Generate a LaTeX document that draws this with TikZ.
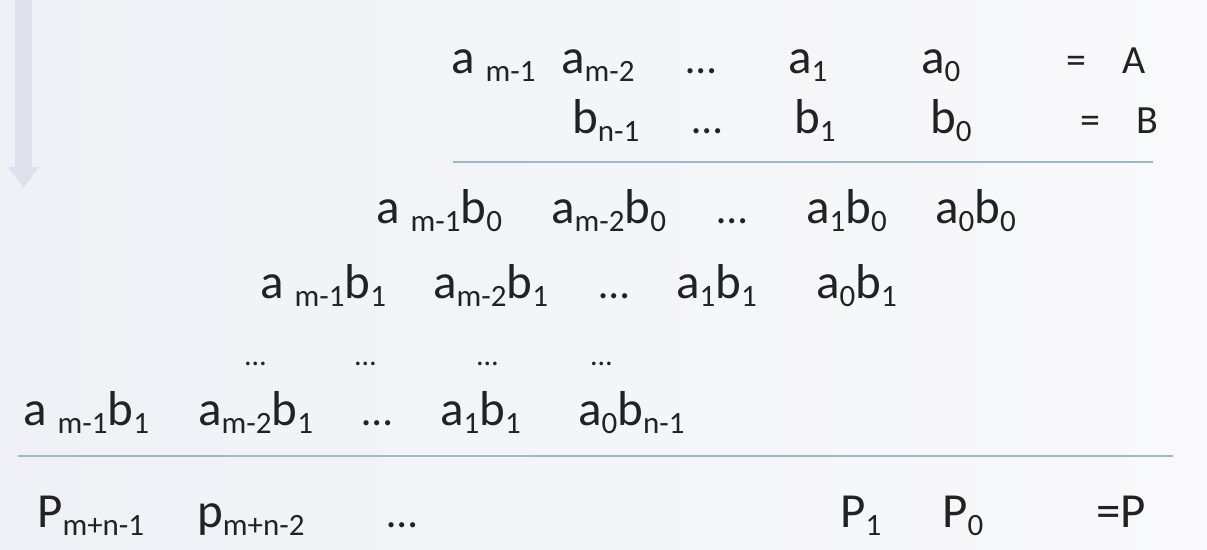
\documentclass[tikz,border=0pt]{standalone}
\usepackage{fontspec}
\setmainfont{Carlito}
\definecolor{bgleft}{HTML}{EFF1F6}
\definecolor{bgright}{HTML}{F9F9FB}
\definecolor{rulecol}{HTML}{98BCC6}
\definecolor{txtcol}{HTML}{222222}
\definecolor{arrowcol}{HTML}{DDE1EC}
\newcommand{\lsub}[1]{\raisebox{-8pt}{\fontsize{31}{34}\selectfont #1}}
\tikzset{
  term/.style={anchor=base west,inner sep=0pt,text=txtcol,font=\fontsize{49}{54}\selectfont},
  smallterm/.style={term,font=\fontsize{40}{44}\selectfont},
  ellterm/.style={term,font=\fontsize{43}{48}\selectfont},
  dotterm/.style={term,font=\fontsize{30}{34}\selectfont},
  sumrule/.style={draw=rulecol,line width=2pt}
}
\begin{document}
\begin{tikzpicture}[x=1pt,y=-1pt]
\useasboundingbox (0,0) rectangle (1207,549);
\shade[left color=bgleft,right color=bgright] (0,0) rectangle (1207,549);
% arrow at the top left
\fill[arrowcol] (15,0) rectangle (32,167);
\fill[arrowcol] (8,167) -- (39,167) -- (23.5,188) -- cycle;
% A
\node[term] (am1) at (451,73) {a\hspace{11pt}\lsub{m-1}};
\node[term] (am2) at (561,73) {a\lsub{m-2}};
\node[ellterm] (adots) at (686,73) {…};
\node[term] (a1) at (788,73) {a\lsub{1}};
\node[term] (a0) at (921,73) {a\lsub{0}};
\node[smallterm] (aeq) at (1066,73) {=};
\node[smallterm] (A) at (1122,73) {A};
% B
\node[term] (bn1) at (572,133) {b\lsub{n-1}};
\node[ellterm] (bdots) at (692,133) {…};
\node[term] (b1) at (794,133) {b\lsub{1}};
\node[term] (b0) at (930,133) {b\lsub{0}};
\node[smallterm] (beq) at (1080,133) {=};
\node[smallterm] (B) at (1136,133) {B};
\coordinate (r1w) at (453,162);
\coordinate (r1e) at (1153,162);
\draw[sumrule] (r1w) -- (r1e);
% partial product with b0
\node[term] (p0a) at (376,223) {a\hspace{11pt}\lsub{m-1}b\lsub{0}};
\node[term] (p0b) at (551,223) {a\lsub{m-2}b\lsub{0}};
\node[ellterm] (p0c) at (717,223) {…};
\node[term] (p0d) at (806,223) {a\lsub{1}b\lsub{0}};
\node[term] (p0e) at (935,223) {a\lsub{0}b\lsub{0}};
% partial product with b1
\node[term] (p1a) at (260,298) {a\hspace{11pt}\lsub{m-1}b\lsub{1}};
\node[term] (p1b) at (433,298) {a\lsub{m-2}b\lsub{1}};
\node[ellterm] (p1c) at (599,298) {…};
\node[term] (p1d) at (676,298) {a\lsub{1}b\lsub{1}};
\node[term] (p1e) at (816,298) {a\lsub{0}b\lsub{1}};
% dots
\node[dotterm] (d1) at (245,365) {…};
\node[dotterm] (d2) at (355,365) {…};
\node[dotterm] (d3) at (477,365) {…};
\node[dotterm] (d4) at (591,365) {…};
% last partial product
\node[term] (pna) at (23,425) {a\hspace{11pt}\lsub{m-1}b\lsub{1}};
\node[term] (pnb) at (198,425) {a\lsub{m-2}b\lsub{1}};
\node[ellterm] (pnc) at (362,425) {…};
\node[term] (pnd) at (440,425) {a\lsub{1}b\lsub{1}};
\node[term] (pne) at (578,425) {a\lsub{0}b\lsub{n-1}};
\coordinate (r2w) at (18,456);
\coordinate (r2e) at (1173,456);
\draw[sumrule] (r2w) -- (r2e);
% P
\node[term] (Pa) at (37,527) {P\lsub{m+n-1}};
\node[term] (Pb) at (197,527) {p\lsub{m+n-2}};
\node[ellterm] (Pc) at (387,527) {…};
\node[term] (P1) at (840,527) {P\lsub{1}};
\node[term] (P0) at (942,527) {P\lsub{0}};
\node[term] (Peq) at (1096,527) {=P};
\end{tikzpicture}
\end{document}
